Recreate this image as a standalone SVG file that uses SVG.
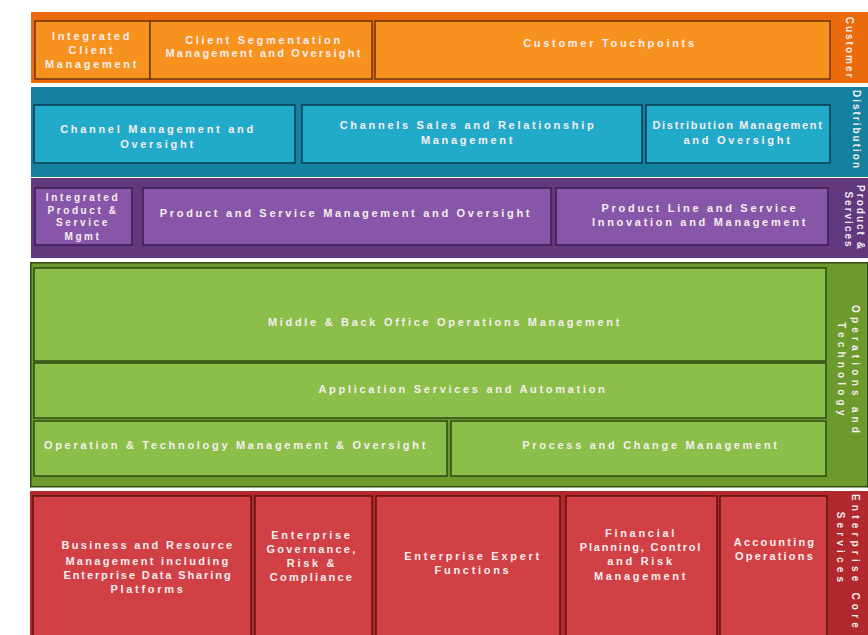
<svg xmlns="http://www.w3.org/2000/svg" width="868" height="635" viewBox="0 0 868 635">
<style>
text{font-family:"Liberation Sans",Arial,sans-serif;font-weight:bold;fill:#f6eeee;text-anchor:middle;font-size:11px;letter-spacing:2.7px}
.sm{font-size:10px;letter-spacing:2.6px}
.lbl{font-size:10px;letter-spacing:2px}
.lbw{font-size:10px;letter-spacing:4.2px}
.ob{fill:#EA6A0C}.o{fill:#F7921E;stroke:#6b3510;stroke-width:1.5}
.tb{fill:#14819E}.t{fill:#22AACB;stroke:#0b3c4c;stroke-width:1.5}
.pb{fill:#62387F}.p{fill:#8756A8;stroke:#3a1f52;stroke-width:1.5}
.gb{fill:#6C9A2D;stroke:#2e4a12;stroke-width:1.5}.g{fill:#8CBF4A;stroke:#2e4a12;stroke-width:1.5}
.rb{fill:#B1282D}.r{fill:#D14045;stroke:#5e1212;stroke-width:1.5}
</style>
<rect width="868" height="635" fill="#ffffff"/>
<g id="band-customer">
<rect class="ob" x="31" y="12" width="837" height="71"/>
<text class="lbl" transform="translate(845.5,48) rotate(90)">Customer</text>
</g>
<g id="n-integrated-client"><rect class="o" x="35" y="21" width="115" height="58"/>
<text x="92" y="40">Integrated</text><text x="92" y="54">Client</text><text x="92" y="68">Management</text></g>
<g id="n-client-seg"><rect class="o" x="150" y="21" width="222" height="58"/>
<text x="264" y="44">Client Segmentation</text><text x="264" y="57" style="letter-spacing:2.2px">Management and Oversight</text></g>
<g id="n-touchpoints"><rect class="o" x="375" y="21" width="455" height="58"/>
<text x="610" y="47">Customer Touchpoints</text></g>

<g id="band-distribution">
<rect class="tb" x="31" y="87" width="837" height="90"/>
<text class="lbl" transform="translate(852.5,130) rotate(90)">Distribution</text>
</g>
<g id="n-channel-mgmt"><rect class="t" x="34" y="105" width="261" height="58"/>
<text x="158" y="133">Channel Management and</text><text x="158" y="148">Oversight</text></g>
<g id="n-channel-sales"><rect class="t" x="302" y="105" width="340" height="58"/>
<text x="468" y="129">Channels Sales and Relationship</text><text x="468" y="144">Management</text></g>
<g id="n-distribution-mgmt"><rect class="t" x="646" y="105" width="184" height="58"/>
<text x="738" y="129" style="letter-spacing:1.7px">Distribution Management</text><text x="738" y="144">and Oversight</text></g>

<g id="band-product">
<rect class="pb" x="31" y="178" width="837" height="80"/>
<text class="lbl" transform="translate(856.5,218) rotate(90)">Product &amp;</text>
<text class="lbl" transform="translate(844.5,220) rotate(90)">Services</text>
</g>
<g id="n-integrated-product"><rect class="p" x="35" y="188" width="97" height="57"/>
<text class="sm" x="83" y="201">Integrated</text><text class="sm" x="83" y="213.5">Product &amp;</text><text class="sm" x="83" y="226">Service</text><text class="sm" x="83" y="240">Mgmt</text></g>
<g id="n-product-service"><rect class="p" x="143" y="188" width="408" height="57"/>
<text x="346" y="217">Product and Service Management and Oversight</text></g>
<g id="n-product-line"><rect class="p" x="556" y="188" width="272" height="57"/>
<text x="700" y="212">Product Line and Service</text><text x="700" y="226">Innovation and Management</text></g>

<g id="band-operations">
<rect class="gb" x="30.75" y="262.75" width="837" height="224"/>
<text class="lbw" transform="translate(851.5,371) rotate(90)">Operations and</text>
<text class="lbw" transform="translate(837.5,371) rotate(90)">Technology</text>
</g>
<g id="n-middle-back"><rect class="g" x="34" y="268" width="792" height="93"/>
<text x="445" y="326">Middle &amp; Back Office Operations Management</text></g>
<g id="n-app-services"><rect class="g" x="34" y="363" width="792" height="55"/>
<text x="463" y="393">Application Services and Automation</text></g>
<g id="n-op-tech"><rect class="g" x="34" y="421" width="413" height="55"/>
<text x="236" y="449">Operation &amp; Technology Management &amp; Oversight</text></g>
<g id="n-process-change"><rect class="g" x="451" y="421" width="375" height="55"/>
<text x="651" y="449">Process and Change Management</text></g>

<g id="band-enterprise">
<rect class="rb" x="30" y="491" width="838" height="150"/>
<text class="lbw" transform="translate(851.5,563) rotate(90)">Enterprise Core</text>
<text class="lbw" transform="translate(836.5,549) rotate(90)">Services</text>
</g>
<g id="n-business-resource"><rect class="r" x="33" y="496" width="218" height="150"/>
<text x="148" y="549" style="letter-spacing:2.3px">Business and Resource</text><text x="148" y="565" style="letter-spacing:2.3px">Management including</text><text x="148" y="579" style="letter-spacing:1.9px">Enterprise Data Sharing</text><text x="148" y="593">Platforms</text></g>
<g id="n-governance"><rect class="r" x="255" y="496" width="117" height="150"/>
<text x="312" y="539">Enterprise</text><text x="312" y="553" style="letter-spacing:2.2px">Governance,</text><text x="312" y="567">Risk &amp;</text><text x="312" y="581" style="letter-spacing:2.2px">Compliance</text></g>
<g id="n-expert"><rect class="r" x="376" y="496" width="184" height="150"/>
<text x="473" y="560">Enterprise Expert</text><text x="473" y="574">Functions</text></g>
<g id="n-financial"><rect class="r" x="566" y="496" width="151" height="150"/>
<text x="641" y="537">Financial</text><text x="641" y="551" style="letter-spacing:1.8px">Planning, Control</text><text x="641" y="565">and Risk</text><text x="641" y="580">Management</text></g>
<g id="n-accounting"><rect class="r" x="720" y="496" width="107" height="150"/>
<text x="775" y="546" style="letter-spacing:2.2px">Accounting</text><text x="775" y="560" style="letter-spacing:2.2px">Operations</text></g>
<g id="connectors"></g>
</svg>
